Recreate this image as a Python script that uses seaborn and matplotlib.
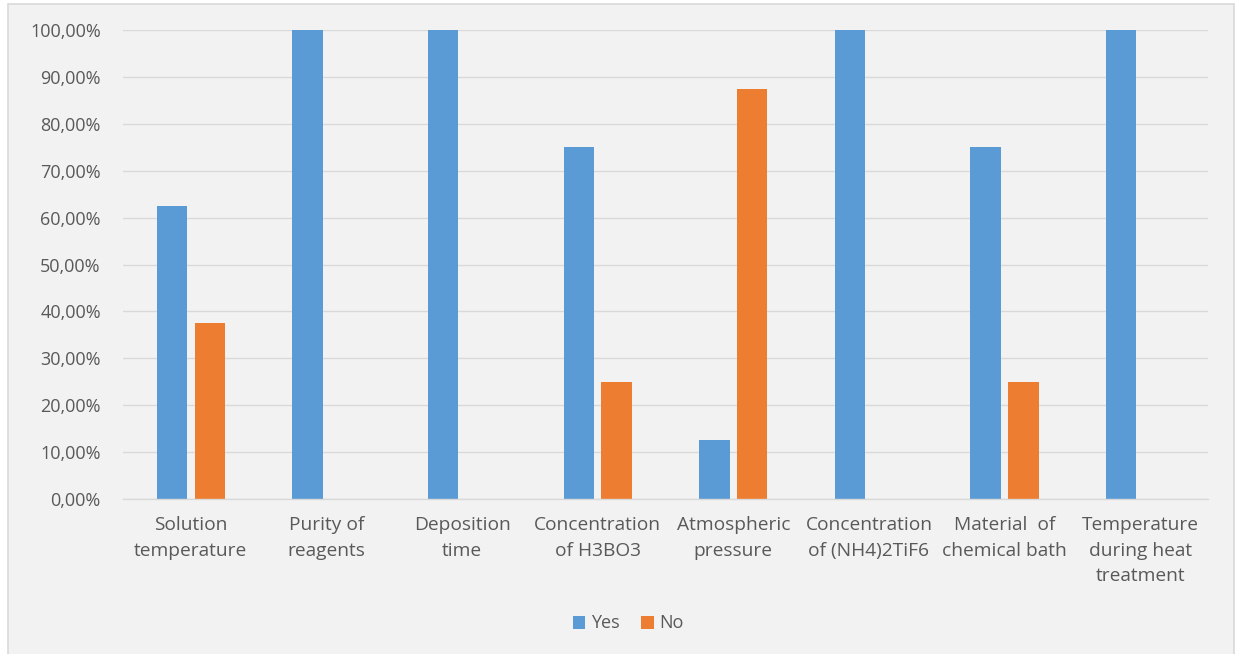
import matplotlib
matplotlib.use("Agg")
import matplotlib.pyplot as plt
from matplotlib.patches import Rectangle
from matplotlib.ticker import FuncFormatter
import pandas as pd
import seaborn as sns

categories = [
    "Solution\ntemperature",
    "Purity of\nreagents",
    "Deposition\ntime",
    "Concentration\nof H3BO3",
    "Atmospheric\npressure",
    "Concentration\nof (NH4)2TiF6",
    "Material  of\nchemical bath",
    "Temperature\nduring heat\ntreatment",
]
yes_share = [0.625, 1.00, 1.00, 0.75, 0.125, 1.00, 0.75, 1.00]
no_share = [0.375, 0.00, 0.00, 0.25, 0.875, 0.00, 0.25, 0.00]
series = ["Yes", "No"]
y_ticks = [0.0, 0.1, 0.2, 0.3, 0.4, 0.5, 0.6, 0.7, 0.8, 0.9, 1.0]

BG = "#f2f2f2"
GRID = "#d9d9d9"
TEXT = "#595959"
palette = {"Yes": "#5b9bd5", "No": "#ed7d31"}

df = pd.DataFrame({
    "category": categories * 2,
    "answer": [series[0]] * len(categories) + [series[1]] * len(categories),
    "share": yes_share + no_share,
})

sns.set_theme(style="white")
plt.rcParams["font.family"] = ["Open Sans", "DejaVu Sans"]

fig = plt.figure(figsize=(12.35, 6.54), dpi=100, facecolor="white")
# chart-area panel with thin grey frame, kept behind the axes
fig.patches.append(Rectangle((8 / 1235, -0.01), (1226 / 1235), 1 - 4 / 654 + 0.01,
                             transform=fig.transFigure, facecolor=BG,
                             edgecolor=GRID, linewidth=1.2, zorder=-10))

ax = fig.add_axes([123 / 1235, 1 - 499 / 654, (1208 - 123) / 1235, (499 - 30) / 654])
ax.set_facecolor(BG)

sns.barplot(data=df, x="category", y="share", hue="answer", hue_order=series,
            order=categories, palette=palette, width=0.56, gap=0.2,
            linewidth=0, saturation=1, ax=ax, legend=True)

ax.set_ylim(0, 1)
ax.set_xlim(-0.5, len(categories) - 0.5)
ax.set_yticks(y_ticks)
ax.yaxis.set_major_formatter(FuncFormatter(lambda v, _: f"{v * 100:.2f}%".replace(".", ",")))
ax.grid(axis="y", color=GRID, linewidth=1.0)
ax.set_axisbelow(True)
for side in ["top", "right", "left"]:
    ax.spines[side].set_visible(False)
ax.spines["bottom"].set_color(GRID)
ax.spines["bottom"].set_linewidth(1.0)
ax.set_xlabel("")
ax.set_ylabel("")
ax.tick_params(axis="both", length=0, colors=TEXT)
ax.tick_params(axis="y", pad=16, labelsize=13)
ax.tick_params(axis="x", pad=12.5, labelsize=13.8)
for lbl in ax.get_xticklabels():
    lbl.set_linespacing(1.52)
    lbl.set_ha("center")

handles, labels = ax.get_legend_handles_labels()
ax.get_legend().remove()
fig.legend(handles, labels, loc="center", bbox_to_anchor=(628 / 1235, 1 - 623.5 / 654),
           ncol=2, frameon=False, fontsize=13, labelcolor=TEXT,
           handlelength=0.7, handleheight=0.7, handletextpad=0.3, columnspacing=1.2)

fig.savefig("out.png", dpi=100, facecolor="white")
